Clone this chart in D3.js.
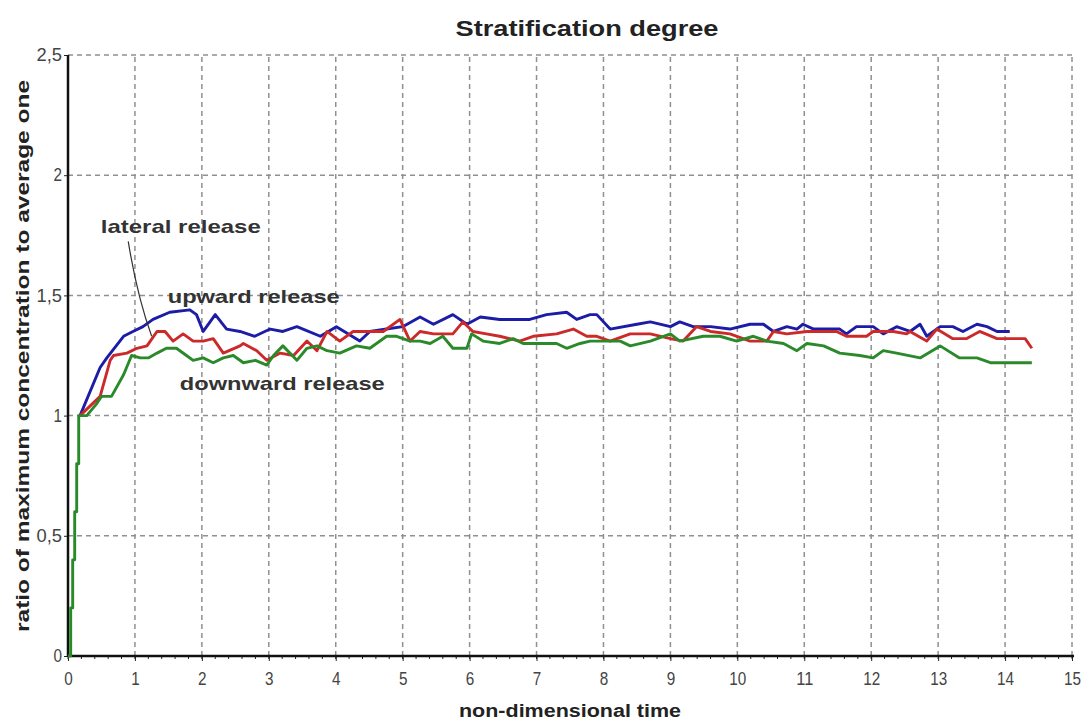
<!DOCTYPE html>
<html>
<head>
<meta charset="utf-8">
<script src="https://cdn.jsdelivr.net/npm/d3@7"></script>
<style>
  body { margin: 0; background: #fff; }
  svg { display: block; }
</style>
</head>
<body>
<div id="graph"></div>
<script>
// [non-dimensional time, ratio]
var upward = [[0.18,1.0],[0.48,1.20],[0.58,1.24],[0.83,1.33],[0.97,1.35],[1.12,1.37],[1.27,1.40],
  [1.52,1.43],[1.82,1.44],[1.92,1.42],[2.02,1.35],[2.2,1.42],[2.37,1.36],[2.57,1.35],[2.79,1.33],
  [3.02,1.36],[3.21,1.35],[3.42,1.37],[3.77,1.33],[4.01,1.37],[4.36,1.31],[4.51,1.35],[4.76,1.36],
  [5.0,1.37],[5.26,1.41],[5.46,1.38],[5.75,1.42],[5.96,1.38],[6.16,1.41],[6.45,1.40],[6.9,1.40],
  [7.15,1.42],[7.45,1.43],[7.6,1.40],[7.8,1.42],[7.9,1.42],[8.1,1.36],[8.5,1.38],[8.7,1.39],
  [9.0,1.37],[9.14,1.39],[9.34,1.37],[9.6,1.37],[9.89,1.36],[10.19,1.38],[10.39,1.38],[10.54,1.35],
  [10.74,1.37],[10.89,1.36],[10.98,1.38],[11.14,1.36],[11.53,1.36],[11.63,1.34],[11.78,1.37],
  [12.03,1.37],[12.18,1.34],[12.38,1.37],[12.58,1.35],[12.73,1.38],[12.83,1.33],[13.03,1.37],
  [13.22,1.37],[13.37,1.35],[13.58,1.38],[13.73,1.37],[13.88,1.35],[14.07,1.35]];

var lateral = [[0.18,1.0],[0.48,1.08],[0.63,1.23],[0.68,1.25],[0.88,1.26],[1.03,1.28],[1.18,1.29],
  [1.33,1.35],[1.45,1.35],[1.57,1.31],[1.72,1.34],[1.87,1.31],[2.02,1.31],[2.17,1.32],[2.32,1.26],
  [2.57,1.29],[2.62,1.30],[2.82,1.27],[2.97,1.23],[3.17,1.26],[3.37,1.25],[3.57,1.31],[3.72,1.27],
  [3.87,1.35],[4.06,1.31],[4.26,1.35],[4.51,1.35],[4.71,1.35],[4.96,1.40],[5.11,1.31],[5.26,1.35],
  [5.46,1.34],[5.75,1.34],[5.9,1.39],[6.05,1.35],[6.25,1.34],[6.45,1.33],[6.75,1.31],[6.95,1.33],
  [7.3,1.34],[7.55,1.36],[7.75,1.33],[7.9,1.33],[8.1,1.31],[8.4,1.34],[8.7,1.34],[9.0,1.32],
  [9.19,1.31],[9.39,1.37],[9.6,1.35],[9.89,1.34],[10.19,1.31],[10.44,1.31],[10.54,1.35],[10.74,1.34],
  [11.04,1.35],[11.24,1.35],[11.48,1.35],[11.63,1.33],[11.93,1.33],[12.03,1.35],[12.33,1.35],
  [12.53,1.34],[12.58,1.35],[12.83,1.31],[12.98,1.36],[13.22,1.32],[13.42,1.32],[13.62,1.35],
  [13.88,1.32],[14.17,1.32],[14.3,1.32],[14.4,1.28]];

var downward = [[0,0],[0.04,0],[0.04,0.2],[0.07,0.2],[0.07,0.4],[0.1,0.4],[0.1,0.6],[0.13,0.6],
  [0.13,0.8],[0.16,0.8],[0.16,1.0],[0.28,1.0],
  [0.43,1.05],[0.5,1.08],[0.65,1.08],[0.83,1.17],[0.95,1.25],[1.08,1.24],[1.2,1.24],[1.33,1.26],
  [1.47,1.28],[1.62,1.28],[1.77,1.25],[1.87,1.23],[2.02,1.24],[2.17,1.22],[2.32,1.24],[2.47,1.25],
  [2.62,1.22],[2.8,1.23],[2.97,1.21],[3.07,1.25],[3.21,1.29],[3.42,1.23],[3.57,1.28],[3.72,1.29],
  [3.87,1.27],[4.06,1.26],[4.31,1.29],[4.51,1.28],[4.76,1.33],[4.91,1.33],[5.11,1.31],[5.26,1.31],
  [5.41,1.30],[5.6,1.33],[5.75,1.28],[5.96,1.28],[6.03,1.34],[6.2,1.31],[6.45,1.30],[6.65,1.32],
  [6.8,1.30],[7.3,1.30],[7.45,1.28],[7.65,1.30],[7.8,1.31],[8.1,1.31],[8.25,1.31],[8.4,1.29],
  [8.7,1.31],[9.0,1.34],[9.14,1.31],[9.49,1.33],[9.74,1.33],[9.99,1.31],[10.24,1.33],[10.44,1.31],
  [10.69,1.30],[10.89,1.27],[11.04,1.30],[11.29,1.29],[11.53,1.26],[11.83,1.25],[12.03,1.24],
  [12.18,1.27],[12.38,1.26],[12.73,1.24],[13.03,1.29],[13.32,1.24],[13.58,1.24],[13.78,1.22],[14.4,1.22]];

var xTicks = d3.range(0, 16);
var yTicks = [0, 0.5, 1, 1.5, 2, 2.5];
var yTickLabels = ['0', '0,5', '1', '1,5', '2', '2,5'];

var titleText = 'Stratification degree';
var xTitle = 'non-dimensional time';
var yTitle = 'ratio of maximum concentration to average one';

var seriesNames = ['upward release', 'lateral release', 'downward release'];
var seriesColors = ['#1c1ca6', '#cc2a2a', '#2a8a2a'];
// label anchor in data units
var labelPos = [[1.49, 1.47], [0.49, 1.76], [1.67, 1.105]];

var width = 1085, height = 722;
var plotLeft = 68, plotRight = 1072, plotTop = 55, plotBottom = 656;

var x = d3.scaleLinear().domain([0, 15]).range([plotLeft, plotRight]);
var y = d3.scaleLinear().domain([0, 2.5]).range([plotBottom, plotTop]);

var svg = d3.select('#graph').append('svg')
  .attr('width', width).attr('height', height)
  .style('font-family', '"Liberation Sans", Arial, sans-serif');

// grid
svg.append('g').selectAll('line').data(xTicks.slice(1)).enter()
  .append('line')
  .attr('x1', function(d){ return x(d); }).attr('x2', function(d){ return x(d); })
  .attr('y1', y(0)).attr('y2', y(2.5))
  .attr('stroke', '#909090').attr('stroke-width', 1.5).attr('stroke-dasharray', '5,4');

svg.append('g').selectAll('line').data(yTicks.slice(1)).enter()
  .append('line')
  .attr('x1', x(0)).attr('x2', x(15))
  .attr('y1', function(d){ return y(d); }).attr('y2', function(d){ return y(d); })
  .attr('stroke', '#909090').attr('stroke-width', 1.5).attr('stroke-dasharray', '5,4');

// axes
var xAxis = d3.axisBottom(x).tickValues(xTicks).tickSize(5).tickPadding(11)
  .tickFormat(function(d){ return d; });
var gx = svg.append('g').attr('transform', 'translate(0,' + plotBottom + ')').call(xAxis);
gx.select('.domain').remove();
gx.selectAll('line').attr('stroke', '#222');
gx.selectAll('text').style('font-size', '19px').attr('fill', '#444');
gx.selectAll('.tick').each(function(d){
  d3.select(this).select('text')
    .attr('textLength', String(d).length * 8.5).attr('lengthAdjust', 'spacingAndGlyphs');
});

var minor = d3.range(0, 15.01, 0.2);
svg.append('g').selectAll('line').data(minor).enter()
  .append('line')
  .attr('x1', function(d){ return x(d); }).attr('x2', function(d){ return x(d); })
  .attr('y1', plotBottom).attr('y2', plotBottom + 3)
  .attr('stroke', '#222').attr('stroke-width', 1);

var yAxis = d3.axisLeft(y).tickValues(yTicks).tickSize(4).tickPadding(2)
  .tickFormat(function(d, i){ return yTickLabels[i]; });
var gy = svg.append('g').attr('transform', 'translate(' + plotLeft + ',0)').call(yAxis);
gy.select('.domain').remove();
gy.selectAll('line').attr('stroke', '#222');
gy.selectAll('text').style('font-size', '18px').attr('fill', '#444');
gy.selectAll('.tick').each(function(d, i){
  d3.select(this).select('text')
    .attr('textLength', yTickLabels[i].length * 8.5).attr('lengthAdjust', 'spacingAndGlyphs');
});

svg.append('line').attr('x1', plotLeft).attr('x2', plotRight + 2).attr('y1', plotBottom).attr('y2', plotBottom)
  .attr('stroke', '#111').attr('stroke-width', 2.5);
svg.append('line').attr('x1', plotLeft).attr('x2', plotLeft).attr('y1', plotTop).attr('y2', plotBottom + 1)
  .attr('stroke', '#111').attr('stroke-width', 2.5);

// series
var line = d3.line().x(function(d){ return x(d[0]); }).y(function(d){ return y(d[1]); });
var series = [upward, lateral, downward];
svg.append('g').selectAll('path').data(series).enter()
  .append('path')
  .attr('d', line)
  .attr('fill', 'none')
  .attr('stroke', function(d, i){ return seriesColors[i]; })
  .attr('stroke-width', 2.9)
  .attr('stroke-linejoin', 'round');

// annotations
var labelWidths = [172, 160, 205];
svg.append('g').selectAll('text').data(seriesNames).enter()
  .append('text')
  .attr('x', function(d, i){ return x(labelPos[i][0]); })
  .attr('y', function(d, i){ return y(labelPos[i][1]); })
  .attr('textLength', function(d, i){ return labelWidths[i]; })
  .attr('lengthAdjust', 'spacingAndGlyphs')
  .style('font-size', '19px').style('font-weight', 'bold')
  .attr('fill', '#333')
  .text(function(d){ return d; });

// pointer for lateral release
svg.append('path')
  .attr('d', 'M' + x(0.9) + ',' + y(1.725) + ' Q' + x(1.03) + ',' + y(1.5) + ' ' + x(1.25) + ',' + y(1.33))
  .attr('fill', 'none').attr('stroke', '#333').attr('stroke-width', 1.2);

// titles
svg.append('text').attr('x', 587).attr('y', 36).attr('text-anchor', 'middle')
  .attr('textLength', 263).attr('lengthAdjust', 'spacingAndGlyphs')
  .style('font-size', '22px').style('font-weight', 'bold').attr('fill', '#222')
  .text(titleText);

svg.append('text').attr('x', 570).attr('y', 717).attr('text-anchor', 'middle')
  .attr('textLength', 222).attr('lengthAdjust', 'spacingAndGlyphs')
  .style('font-size', '18px').style('font-weight', 'bold').attr('fill', '#222')
  .text(xTitle);

svg.append('text')
  .attr('transform', 'translate(29,356) rotate(-90)')
  .attr('text-anchor', 'middle')
  .attr('textLength', 552).attr('lengthAdjust', 'spacingAndGlyphs')
  .style('font-size', '18px').style('font-weight', 'bold').attr('fill', '#222')
  .text(yTitle);
</script>
</body>
</html>
